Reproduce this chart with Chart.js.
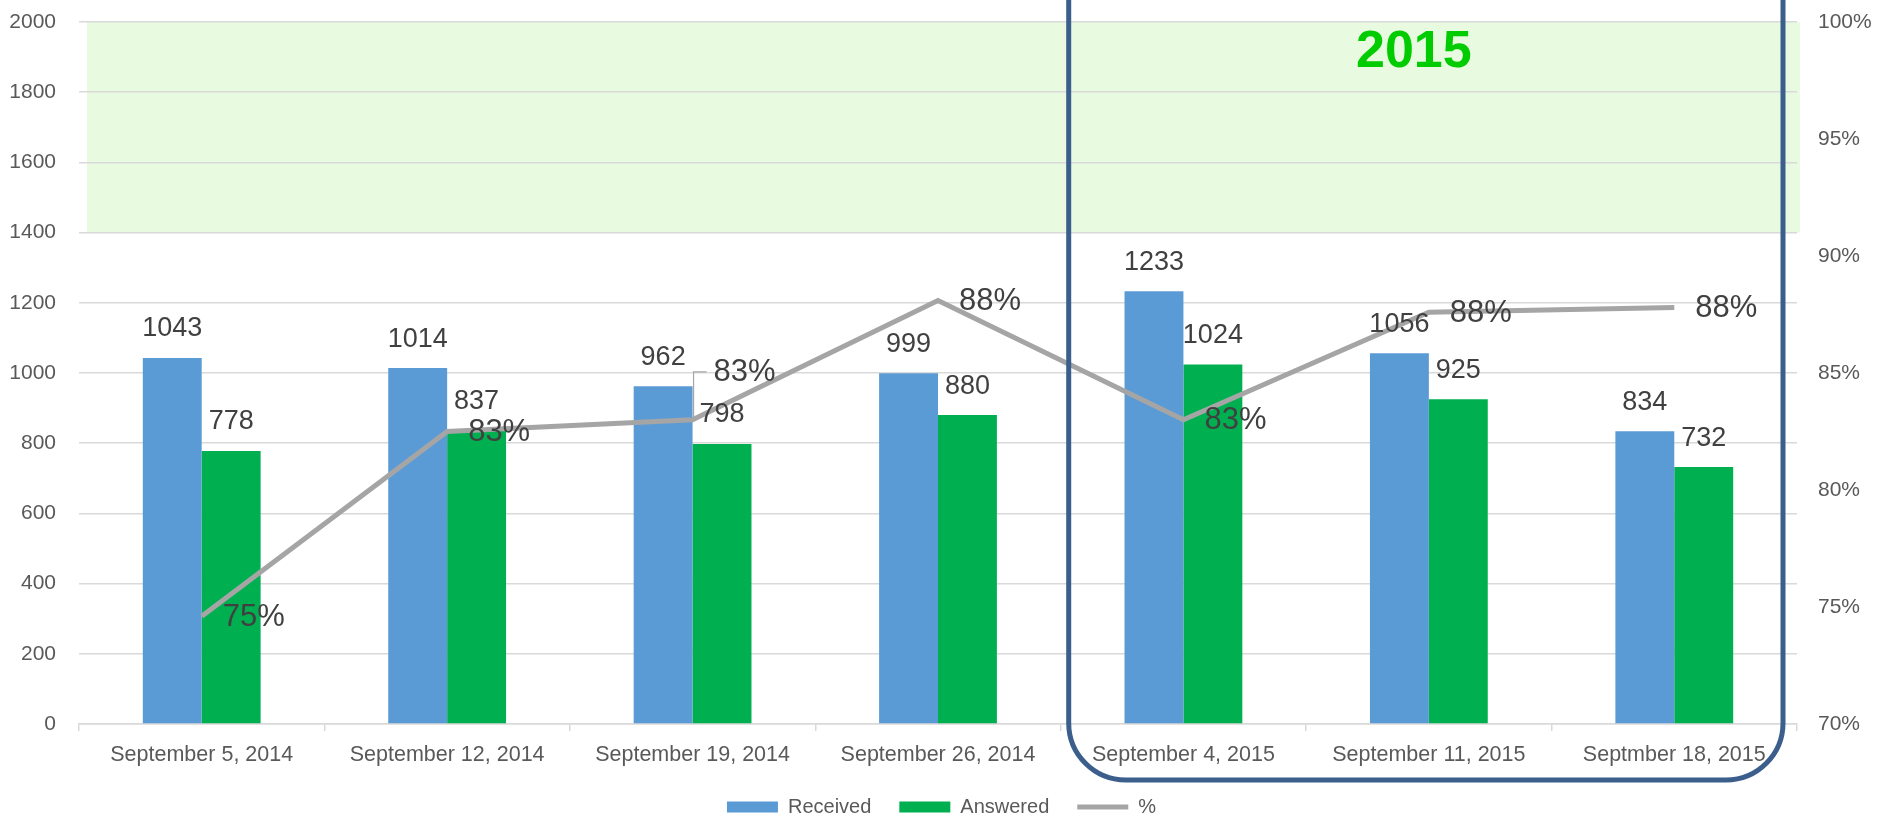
<!DOCTYPE html>
<html>
<head>
<meta charset="utf-8">
<script src="https://cdn.jsdelivr.net/npm/chart.js@4.4.1/dist/chart.umd.min.js"></script>
<style>
    html, body { margin: 0; padding: 0; background: #fff; }
    #wrap { width: 1883px; height: 821px; }
</style>
</head>
<body>
<div id="wrap"><canvas id="chart" width="1883" height="821"></canvas></div>
<script>
// ===== Data =====
const categories = ['September 5, 2014', 'September 12, 2014', 'September 19, 2014', 'September 26, 2014',
    'September 4, 2015', 'September 11, 2015', 'Septmber 18, 2015'];
const received = [1043, 1014, 962, 999, 1233, 1056, 834];
const answered = [778, 837, 798, 880, 1024, 925, 732];
const answeredPct = [74.6, 82.5, 83.0, 88.1, 83.0, 87.6, 87.8];
const countTicks = { min: 0, max: 2000, step: 200 };
const pctTicks = { min: 70, max: 100, step: 5 };
const targetBand = [1400, 2000];
const yearLabel = '2015';
const yearFirstIndex = 4;

// ===== Styles =====
const FONT = '"Liberation Sans", Arial, sans-serif';
const TICK_COLOR = '#595959';
const LABEL_COLOR = '#404040';
const GRID_COLOR = '#d9d9d9';
// % label lifted above its point (with a leader line) where it would collide
const pctLabelLift = [0, 0, 48, 0, 0, 0, 0];

// shaded zone behind the grid
const bandPlugin = {
    id: 'band',
    beforeDraw(chart) {
        const { ctx, chartArea: a, scales: { y } } = chart;
        const top = y.getPixelForValue(targetBand[1]);
        const bottom = y.getPixelForValue(targetBand[0]);
        ctx.save();
        ctx.fillStyle = '#e8fbe0';
        ctx.fillRect(a.left + 8, top, a.right + 3 - (a.left + 8), bottom - top);
        ctx.restore();
    }
};

// value labels like Excel data labels
const labelPlugin = {
    id: 'valueLabels',
    afterDatasetsDraw(chart) {
        const { ctx } = chart;
        ctx.save();
        ctx.fillStyle = LABEL_COLOR;
        ctx.textBaseline = 'middle';
        [0, 1].forEach(di => {
            const meta = chart.getDatasetMeta(di);
            ctx.font = `27px ${FONT}`;
            ctx.textAlign = 'center';
            meta.data.forEach((bar, i) => {
                ctx.fillText(String(chart.data.datasets[di].data[i]), bar.x, bar.y - 29);
            });
        });
        const lineMeta = chart.getDatasetMeta(2);
        ctx.font = `31px ${FONT}`;
        ctx.textAlign = 'left';
        lineMeta.data.forEach((pt, i) => {
            const lift = pctLabelLift[i] || 0;
            const ty = pt.y - lift;
            if (lift) {
                ctx.strokeStyle = '#a6a6a6';
                ctx.lineWidth = 1.2;
                ctx.beginPath();
                ctx.moveTo(pt.x + 1, pt.y);
                ctx.lineTo(pt.x + 1, ty);
                ctx.lineTo(pt.x + 14, ty);
                ctx.stroke();
            }
            ctx.fillText(Math.round(answeredPct[i]) + '%', pt.x + 21, ty + 1);
        });
        ctx.restore();
    }
};

// rounded frame round the 2015 weeks
const framePlugin = {
    id: 'yearFrame',
    afterDraw(chart) {
        const { ctx, chartArea: a, scales: { x } } = chart;
        const catW = (a.right - a.left) / categories.length;
        const left = x.getPixelForValue(yearFirstIndex) - catW / 2 + 8;
        const right = a.right - 14;
        const bottom = a.bottom + 56;
        ctx.save();
        ctx.strokeStyle = '#3b5e8c';
        ctx.lineWidth = 5;
        ctx.beginPath();
        ctx.roundRect(left, -60, right - left, bottom + 60, 57);
        ctx.stroke();
        ctx.fillStyle = '#00cc00';
        ctx.font = `bold 52px ${FONT}`;
        ctx.textAlign = 'center';
        ctx.textBaseline = 'middle';
        ctx.fillText(yearLabel, (left + right) / 2 - 12, 53);
        ctx.restore();
    }
};

// fixed axis sizes; drop the label overflow padding so the plot starts at the top padding
function fixWidth(w) {
    return s => { s.width = w; s.paddingTop = 0; s.paddingBottom = 0; };
}

new Chart(document.getElementById('chart'), {
    data: {
        labels: categories,
        datasets: [
            {
                type: 'bar', label: 'Received', data: received,
                backgroundColor: '#5b9bd5', borderWidth: 0,
                categoryPercentage: 0.48, barPercentage: 1.0, yAxisID: 'y', order: 1
            },
            {
                type: 'bar', label: 'Answered', data: answered,
                backgroundColor: '#00b050', borderWidth: 0,
                categoryPercentage: 0.48, barPercentage: 1.0, yAxisID: 'y', order: 1
            },
            {
                type: 'line', label: '%', data: answeredPct,
                borderColor: '#a5a5a5', backgroundColor: '#a5a5a5', borderWidth: 5,
                pointRadius: 0, tension: 0, fill: false, yAxisID: 'y1', order: 0
            }
        ]
    },
    options: {
        responsive: false,
        devicePixelRatio: 1,
        animation: false,
        layout: { padding: { top: 22, bottom: -6, left: 0, right: 0 } },
        plugins: {
            tooltip: { enabled: false },
            legend: {
                position: 'bottom',
                labels: {
                    usePointStyle: true, pointStyleWidth: 51, boxHeight: 11, padding: 28,
                    color: TICK_COLOR, font: { family: FONT, size: 20 },
                    generateLabels: chart => chart.data.datasets.map((ds, i) => ({
                        text: ds.label,
                        datasetIndex: i,
                        fillStyle: ds.backgroundColor,
                        strokeStyle: ds.type === 'line' ? ds.borderColor : ds.backgroundColor,
                        lineWidth: ds.type === 'line' ? 5 : 0,
                        lineCap: 'butt',
                        pointStyle: ds.type === 'line' ? 'line' : 'rect',
                        fontColor: TICK_COLOR,
                        hidden: false
                    }))
                }
            }
        },
        scales: {
            x: {
                grid: { offset: true, drawOnChartArea: false, drawTicks: true, tickLength: 7, color: GRID_COLOR, lineWidth: 1.5 },
                border: { display: true, color: GRID_COLOR, width: 1.5 },
                ticks: { color: TICK_COLOR, font: { family: FONT, size: 21.5 }, padding: 11, maxRotation: 0, autoSkip: false },
                afterFit: s => { s.height = 45; }
            },
            y: {
                position: 'left',
                min: countTicks.min, max: countTicks.max,
                ticks: { stepSize: countTicks.step, color: TICK_COLOR, font: { family: FONT, size: 21 }, padding: 23,
                    callback: v => String(v) },
                grid: { color: GRID_COLOR, lineWidth: 1.5, drawTicks: false },
                border: { display: false },
                afterFit: fixWidth(79)
            },
            y1: {
                position: 'right',
                min: pctTicks.min, max: pctTicks.max,
                ticks: { stepSize: pctTicks.step, color: TICK_COLOR, font: { family: FONT, size: 21 }, padding: 21,
                    callback: v => v + '%' },
                grid: { display: false, drawTicks: false },
                border: { display: false },
                afterFit: fixWidth(86)
            }
        }
    },
    plugins: [bandPlugin, labelPlugin, framePlugin]
});
</script>
</body>
</html>
